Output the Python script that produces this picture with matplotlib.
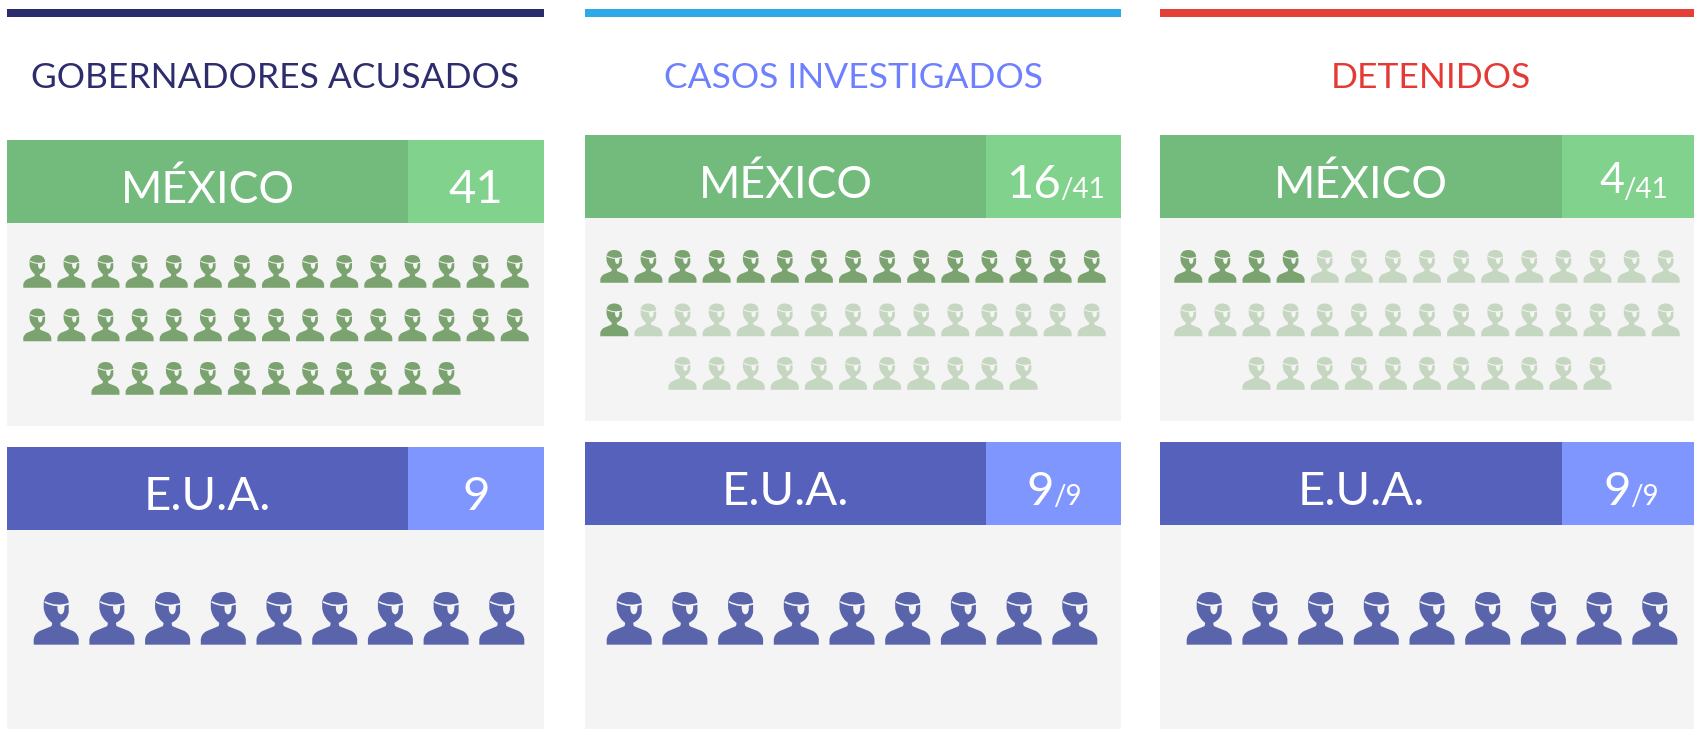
import matplotlib
matplotlib.use('Agg')
from matplotlib import pyplot as plt
from matplotlib.patches import PathPatch, Rectangle
from matplotlib.path import Path
from matplotlib.transforms import Affine2D

plt.rcParams['font.family'] = ['Lato', 'DejaVu Sans']

# datos
titulos = ['GOBERNADORES ACUSADOS', 'CASOS INVESTIGADOS', 'DETENIDOS']
pais = ['MÉXICO', 'E.U.A.']
mexico = [41, 16, 4]
eua = [9, 9, 9]
total_mexico = 41
total_eua = 9
filas_mexico = [15, 15, 11]

color_linea = ['#2b2d6b', '#2fa8e8', '#e53f3a']
color_titulo = ['#2d2d6e', '#6f80ff', '#e53935']

W, H = 1694, 729
fig = plt.figure(figsize=(W / 100, H / 100), dpi=100)
ax = fig.add_axes([0, 0, 1, 1])
ax.set_xlim(0, W)
ax.set_ylim(H, 0)
ax.axis('off')

# silueta, en coordenadas de 135 x 158 con y hacia abajo
M, L, C, Z = Path.MOVETO, Path.LINETO, Path.CURVE3, Path.CLOSEPOLY
cuerpo = [(0, 158, M), (0, 142, L),
          (2, 125, C), (18, 117, C),
          (52, 103, L),
          (56, 101, C), (55, 92, C),
          (40, 82, C), (33, 62, C),
          (30, 50, L), (30, 32, L),
          (32, 0, C), (67, 0, C),
          (103, 0, C), (105, 32, C),
          (105, 60, L),
          (102, 82, C), (80, 92, C),
          (79, 101, C), (83, 103, C),
          (118, 117, L),
          (133, 125, C), (135, 142, C),
          (135, 158, L), (0, 158, Z)]
correa = [(33, 27, M),
          (67, 46, C), (107, 32, C),
          (108, 37, L),
          (68, 51, C), (32, 32, C),
          (33, 27, Z)]
parche = [(71, 43, M), (92, 38, L),
          (94, 66, C), (82, 67, C),
          (70, 66, C), (71, 43, C),
          (71, 43, Z)]


def hacer_path(puntos):
    return Path([(p[0], p[1]) for p in puntos], [p[2] for p in puntos])


path_cuerpo = hacer_path(cuerpo)
path_hueco = Path.make_compound_path(hacer_path(correa), hacer_path(parche))


def persona(cx, top, ancho, color, fondo='#f4f4f4'):
    esc = ancho / 135
    tr = Affine2D().scale(esc).translate(cx - ancho / 2, top) + ax.transData
    ax.add_patch(PathPatch(path_cuerpo, fc=color, ec='none', transform=tr))
    ax.add_patch(PathPatch(path_hueco, fc=fondo, ec='none', transform=tr))


col_x = [(7, 544, 408), (585, 1121, 986), (1160, 1694, 1562)]
y_mex = [140, 135, 135]
y_eua = [447, 442, 442]
y_fila = [255, 250, 250]
cx_mex = [276, 853, 1427]
cx_eua = [279, 852, 1432]
corte_mex = [None, 1060, 1623]
corte_eua = [None, 1053, 1630]

for i in range(3):
    x0, x1, xd = col_x[i]
    ax.add_patch(Rectangle((x0, 9), x1 - x0, 8, fc=color_linea[i], ec='none'))
    ax.text((x0 + x1) / 2 + (4 if i == 2 else 0), 88, titulos[i], color=color_titulo[i], fontsize=25.5,
            ha='center', va='baseline')

    # México
    y = y_mex[i]
    ax.add_patch(Rectangle((x0, y + 83), x1 - x0, y_eua[i] - 21 - y - 83, fc='#f4f4f4', ec='none'))
    ax.add_patch(Rectangle((x0, y), xd - x0, 83, fc='#72bb7d', ec='none'))
    ax.add_patch(Rectangle((xd, y), x1 - xd, 83, fc='#80d28c', ec='none'))
    ax.text((x0 + xd) / 2, y + 63, pais[0], color='white', fontsize=32, ha='center', va='baseline')

    n = 0
    for f, k in enumerate(filas_mexico):
        for j in range(k):
            cx = cx_mex[i] + (j - (k - 1) / 2) * 34.1
            color = '#7ba36f' if n < mexico[i] else '#c6d7c1'
            persona(cx, y_fila[i] + f * 53.5, 28, color)
            n += 1

    # E.U.A.
    y = y_eua[i]
    ax.add_patch(Rectangle((x0, y + 83), x1 - x0, H - y - 83, fc='#f4f4f4', ec='none'))
    ax.add_patch(Rectangle((x0, y), xd - x0, 83, fc='#5661bb', ec='none'))
    ax.add_patch(Rectangle((xd, y), x1 - xd, 83, fc='#7f96ff', ec='none'))
    ax.text((x0 + xd) / 2, y + 63, pais[1], color='white', fontsize=34, ha='center', va='baseline')
    for j in range(eua[i]):
        persona(cx_eua[i] + (j - (eua[i] - 1) / 2) * 55.7, 592, 45, '#5a64aa')

    # cifras
    xc = (xd + x1) / 2
    if i == 0:
        ax.text(xc, y_mex[i] + 63, str(mexico[i]), color='white', fontsize=34, ha='center', va='baseline')
        ax.text(xc, y_eua[i] + 63, str(eua[i]), color='white', fontsize=34, ha='center', va='baseline')
    else:
        # el 4 va un poco mas chico y mas arriba que las otras cifras
        chico = mexico[i] < 10
        ax.text(corte_mex[i] + 1, y_mex[i] + (58 if chico else 63), str(mexico[i]), color='white',
                fontsize=31 if chico else 34, ha='right', va='baseline')
        ax.text(corte_mex[i], y_mex[i] + 63, '/' + str(total_mexico), color='white', fontsize=20,
                ha='left', va='baseline')
        ax.text(corte_eua[i] + 1, y_eua[i] + 63, str(eua[i]), color='white', fontsize=34, ha='right', va='baseline')
        ax.text(corte_eua[i], y_eua[i] + 63, '/' + str(total_eua), color='white', fontsize=20,
                ha='left', va='baseline')

fig.savefig('out.png', dpi=100)
